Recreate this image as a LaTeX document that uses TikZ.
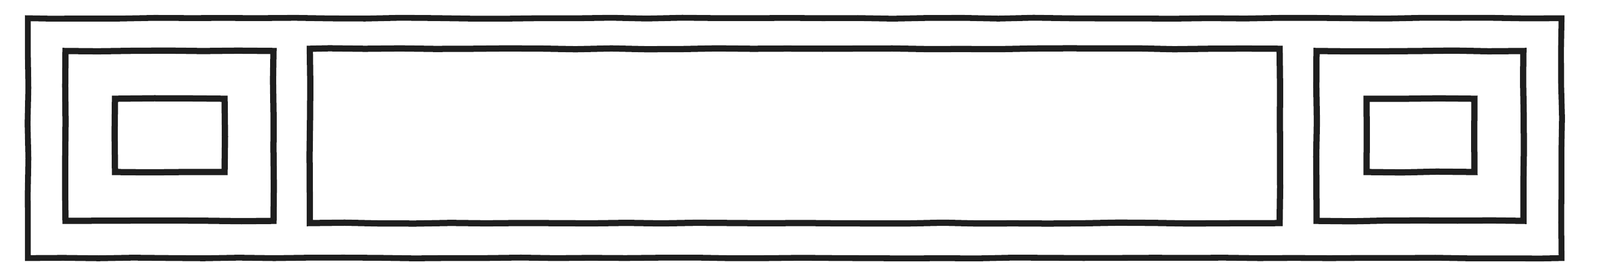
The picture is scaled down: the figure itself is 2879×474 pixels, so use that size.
\documentclass[tikz,border=0pt]{standalone}
\usetikzlibrary{decorations.pathmorphing}
\definecolor{ink}{HTML}{1E1E1E}
\begin{document}
\begin{tikzpicture}[x=0.01cm,y=-0.01cm,
  box/.style={draw=ink, line width=3.2pt, rectangle, inner sep=0pt, outer sep=0pt,
    line join=miter, decorate, decoration={random steps, segment length=18pt, amplitude=0.25pt}}]
\useasboundingbox (0,0) rectangle (2879,474);
\node[box, line width=3.0pt, minimum width=27.58cm, minimum height=4.32cm] (outer) at (1430,249) {};
\node[box, minimum width=3.74cm, minimum height=3.06cm] (lsq) at (305,245) {};
\node[box, minimum width=1.97cm, minimum height=1.32cm] (lin) at (305.5,244) {};
\node[box, minimum width=17.44cm, minimum height=3.14cm] (mid) at (1430,245) {};
\node[box, minimum width=3.72cm, minimum height=3.06cm] (rsq) at (2555,245) {};
\node[box, minimum width=1.94cm, minimum height=1.32cm] (rin) at (2556,244) {};
\end{tikzpicture}
\end{document}
